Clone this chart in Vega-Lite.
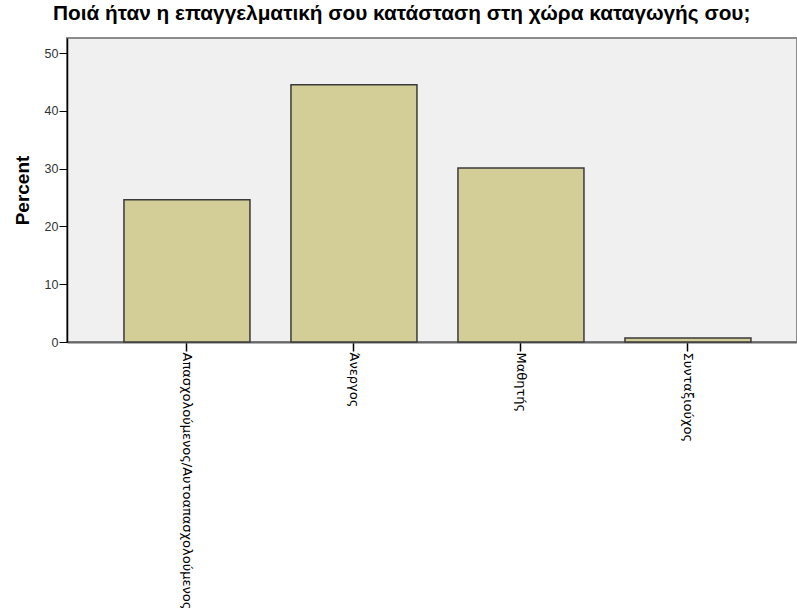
{
  "$schema": "https://vega.github.io/schema/vega-lite/v6.json",
  "width": 730,
  "height": 304,
  "autosize": {"type": "none"},
  "padding": {"left": 67, "top": 38, "right": 0, "bottom": 273},
  "background": "white",
  "title": {
    "text": "Ποιά ήταν η επαγγελματική σου κατάσταση στη χώρα καταγωγής σου;",
    "anchor": "start",
    "frame": "group",
    "dx": -14,
    "offset": 13,
    "font": "Liberation Sans",
    "fontSize": 20.8,
    "fontWeight": "bold",
    "color": "#000000"
  },
  "config": {
    "view": {"fill": "#f0f0f0", "stroke": "#8c8c8c", "strokeWidth": 2},
    "axis": {"grid": false}
  },
  "data": {
    "values": [
      {"status": "Απασχολούμενος/Αυτοαπασχολούμενος", "percent": 24.6},
      {"status": "Άνεργος", "percent": 44.5},
      {"status": "Μαθητής", "percent": 30.1},
      {"status": "Συνταξιούχος", "percent": 0.7}
    ]
  },
  "mark": {"type": "bar", "fill": "#d3ce97", "stroke": "#3a3a3a", "strokeWidth": 1.5},
  "encoding": {
    "x": {
      "field": "status",
      "type": "nominal",
      "sort": null,
      "scale": {"paddingInner": 0.2455, "paddingOuter": 0.3084, "align": 0.553},
      "axis": {
        "title": null,
        "labelAngle": 90,
        "labelAlign": "left",
        "labelBaseline": "middle",
        "labelFont": "DejaVu Sans",
        "labelFontSize": 13,
        "labelColor": "#000000",
        "labelLimit": 0,
        "labelPadding": 1,
        "labelOverlap": false,
        "tickColor": "#000000",
        "tickSize": 9,
        "tickWidth": 1.5,
        "domainColor": "#666666",
        "domainWidth": 2
      }
    },
    "y": {
      "field": "percent",
      "type": "quantitative",
      "scale": {"domain": [0, 52.6], "nice": false},
      "axis": {
        "title": "Percent",
        "titleFont": "Liberation Sans",
        "titleFontSize": 19,
        "titleFontWeight": "bold",
        "titleColor": "#000000",
        "titlePadding": 12,
        "values": [0, 10, 20, 30, 40, 50],
        "labelFont": "Liberation Sans",
        "labelFontSize": 12.5,
        "labelColor": "#333333",
        "labelPadding": 1,
        "tickColor": "#000000",
        "tickSize": 8,
        "tickWidth": 1,
        "domainColor": "#000000",
        "domainWidth": 1.5
      }
    }
  }
}
